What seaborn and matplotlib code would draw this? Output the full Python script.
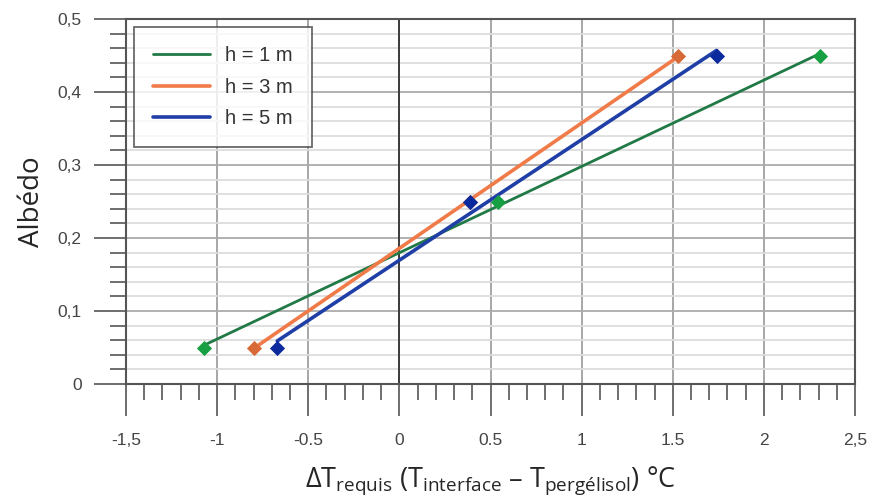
import numpy as np
import pandas as pd
import matplotlib
matplotlib.use("Agg")
import matplotlib.pyplot as plt
from matplotlib.ticker import MultipleLocator, FixedLocator, FixedFormatter
import seaborn as sns

# Points (albedo vs required delta T)
albedo = [0.05, 0.25, 0.45]
dt_h1 = [-1.07, 0.54, 2.31]
dt_h3 = [-0.80, 0.39, 1.53]
dt_h5 = [-0.67, 0.39, 1.74]
labels = ["h = 1 m", "h = 3 m", "h = 5 m"]
line_colors = ["#217a45", "#f07a48", "#1f3fa6"]
marker_colors = ["#17a043", "#d86a38", "#0b2a9e"]

xticks = [-1.5, -1, -0.5, 0, 0.5, 1, 1.5, 2, 2.5]
xtick_labels = ["-1,5", "-1", "-0.5", "0", "0.5", "1", "1.5", "2", "2,5"]
yticks = [0, 0.1, 0.2, 0.3, 0.4, 0.5]
ytick_labels = ["0", "0,1", "0,2", "0,3", "0,4", "0,5"]

sns.set_style("white")
plt.rcParams["font.family"] = ["Liberation Sans", "DejaVu Sans"]
plt.rcParams["mathtext.fontset"] = "custom"
plt.rcParams["mathtext.rm"] = "Open Sans"

fig = plt.figure(figsize=(8.7, 5.01), dpi=100)
ax = fig.add_axes([0.1448, 0.2335, 0.8380, 0.7285])

# trend lines (linear fit over the data range) + diamond markers
series = [dt_h1, dt_h3, dt_h5]
widths = [2.0, 2.6, 2.6]
handles = []
for dt, lab, lc, lw in zip(series, labels, line_colors, widths):
    df = pd.DataFrame({"dt": dt, "albedo": albedo})
    sns.regplot(data=df, x="dt", y="albedo", ax=ax, ci=None, truncate=True,
                scatter=False, line_kws={"color": lc, "lw": lw, "zorder": 4, "label": lab})
    handles.append(ax.get_lines()[-1])
for dt, mc in zip(series, marker_colors):
    sns.scatterplot(x=dt, y=albedo, ax=ax, marker="D", s=60, color=mc,
                    edgecolor=mc, linewidth=0, zorder=5)

ax.set_xlim(-1.5, 2.5)
ax.set_ylim(0, 0.5)

ax.xaxis.set_major_locator(FixedLocator(xticks))
ax.xaxis.set_major_formatter(FixedFormatter(xtick_labels))
ax.xaxis.set_minor_locator(MultipleLocator(0.1))
ax.yaxis.set_major_locator(FixedLocator(yticks))
ax.yaxis.set_major_formatter(FixedFormatter(ytick_labels))
ax.yaxis.set_minor_locator(MultipleLocator(0.02))

ax.tick_params(axis="both", which="both", bottom=True, left=True, top=False, right=False)
ax.tick_params(axis="both", which="major", direction="out", length=23, width=1.2,
               color="#555555", labelsize=12.5, labelcolor="#444444")
ax.tick_params(axis="both", which="minor", direction="out", length=11.5, width=1.2,
               color="#555555")
ax.tick_params(axis="x", which="major", pad=12)
ax.tick_params(axis="y", which="major", pad=9)

ax.grid(True, axis="x", which="major", color="#a0a0a0", lw=1.3, zorder=1)
ax.grid(True, axis="y", which="major", color="#ababab", lw=1.3, zorder=1)
ax.grid(True, axis="y", which="minor", color="#dddddd", lw=1.3, zorder=1)
ax.axvline(0, color="#333333", lw=1.3, zorder=2)
ax.set_axisbelow(True)

for sp in ax.spines.values():
    sp.set_color("#555555")
    sp.set_linewidth(1.5)
    sp.set_visible(True)

ax.set_ylabel("Albédo", fontsize=20, family="Open Sans", labelpad=8)
ax.set_xlabel("ΔT$_{\\mathrm{requis}}$ (T$_{\\mathrm{interface}}$ – T$_{\\mathrm{pergélisol}}$) °C",
              fontsize=19.5, family="Open Sans", labelpad=12)

leg = ax.legend(handles=handles, labels=labels, loc="upper left",
                bbox_to_anchor=(0.011, 0.978), fontsize=14.5, frameon=True,
                fancybox=False, edgecolor="#444444", handlelength=2.8,
                handletextpad=0.75, labelspacing=0.62, borderpad=0.95,
                borderaxespad=0)
leg.get_frame().set_linewidth(1.3)
leg.set_zorder(6)
for t in leg.get_texts():
    t.set_color("#333333")

fig.savefig("out.png", dpi=100)
